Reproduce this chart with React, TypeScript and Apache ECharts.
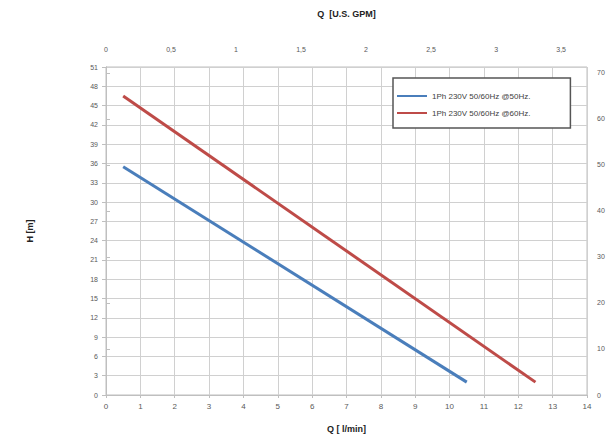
import React, { useEffect, useRef } from "react";
import * as echarts from "echarts";

const flowLmin50 = [0.5, 10.5];
const head50 = [35.5, 2];
const flowLmin60 = [0.5, 12.5];
const head60 = [46.5, 2];
const seriesNames = ["1Ph 230V 50/60Hz @50Hz.", "1Ph 230V 50/60Hz @60Hz."];

const FONT = "Liberation Sans";
const GREY = "#595959";

export default function App() {
  const ref = useRef<HTMLDivElement>(null);
  useEffect(() => {
    const chart = echarts.init(ref.current!, null, { renderer: "svg" });
    const pts = (xs: number[], ys: number[]) => xs.map((x, i) => [x, ys[i]]);
    chart.setOption({
      animation: false,
      backgroundColor: "#ffffff",
      textStyle: { fontFamily: FONT },
      grid: {
        left: 106,
        right: 29,
        top: 67,
        bottom: 38,
        show: true,
        borderColor: "#bfbfbf",
        borderWidth: 1,
      },
      legend: {
        data: seriesNames,
        orient: "vertical",
        left: 393,
        top: 78,
        padding: [14, 40, 11, 4],
        itemGap: 9,
        itemWidth: 30,
        itemHeight: 2,
        icon: "rect",
        borderColor: "#555555",
        borderWidth: 1.5,
        backgroundColor: "#ffffff",
        textStyle: { fontSize: 8, color: "#404040", fontFamily: FONT },
      },
      xAxis: [
        {
          type: "value",
          position: "bottom",
          min: 0,
          max: 14,
          interval: 1,
          name: "Q [ l/min]",
          nameLocation: "middle",
          nameGap: 29,
          nameTextStyle: { fontSize: 9, fontWeight: "bold", color: "#222", fontFamily: FONT },
          axisLine: { show: true, lineStyle: { color: "#bfbfbf" } },
          axisTick: { show: true, length: 3, lineStyle: { color: "#bfbfbf" } },
          axisLabel: { fontSize: 8, color: GREY, margin: 7 },
          splitLine: { show: true, lineStyle: { color: "#d0d0d0", width: 1 } },
        },
        {
          type: "value",
          position: "top",
          min: 0,
          max: 3.699,
          interval: 0.5,
          name: "Q  [U.S. GPM]",
          nameLocation: "middle",
          nameGap: 49,
          nameTextStyle: { fontSize: 9, fontWeight: "bold", color: "#222", fontFamily: FONT },
          axisLine: { show: false },
          axisTick: { show: false },
          axisLabel: {
            fontSize: 7,
            color: GREY,
            margin: 14,
            showMaxLabel: false,
            formatter: (v: number) => String(v).replace(".", ","),
          },
          splitLine: { show: false },
        },
      ],
      yAxis: [
        {
          type: "value",
          position: "left",
          min: 0,
          max: 51,
          interval: 3,
          name: "H [m]",
          nameLocation: "middle",
          nameGap: 72,
          nameRotate: 90,
          nameTextStyle: { fontSize: 9, fontWeight: "bold", color: "#222", fontFamily: FONT },
          axisLine: { show: true, lineStyle: { color: "#bfbfbf" } },
          axisTick: { show: true, length: 4, lineStyle: { color: "#bfbfbf" } },
          axisLabel: { fontSize: 7, color: GREY, margin: 8 },
          splitLine: { show: true, lineStyle: { color: "#d0d0d0", width: 1 } },
        },
        {
          type: "value",
          position: "right",
          min: 0,
          max: 71.3,
          interval: 10,
          axisLine: { show: true, lineStyle: { color: "#bfbfbf" } },
          axisTick: { show: true, length: 4, lineStyle: { color: "#bfbfbf" } },
          axisLabel: { fontSize: 7, color: GREY, margin: 10, showMaxLabel: false },
          splitLine: { show: false },
        },
      ],
      series: [
        {
          name: seriesNames[0],
          type: "line",
          xAxisIndex: 0,
          yAxisIndex: 0,
          symbol: "none",
          data: pts(flowLmin50, head50),
          lineStyle: { color: "#4a7ebb", width: 3 },
          itemStyle: { color: "#4a7ebb" },
        },
        {
          name: seriesNames[1],
          type: "line",
          xAxisIndex: 0,
          yAxisIndex: 0,
          symbol: "none",
          data: pts(flowLmin60, head60),
          lineStyle: { color: "#be4b48", width: 3 },
          itemStyle: { color: "#be4b48" },
        },
      ],
    });
    return () => chart.dispose();
  }, []);
  return <div ref={ref} style={{ width: 616, height: 438, position: "absolute", left: 0, top: 0 }} />;
}
